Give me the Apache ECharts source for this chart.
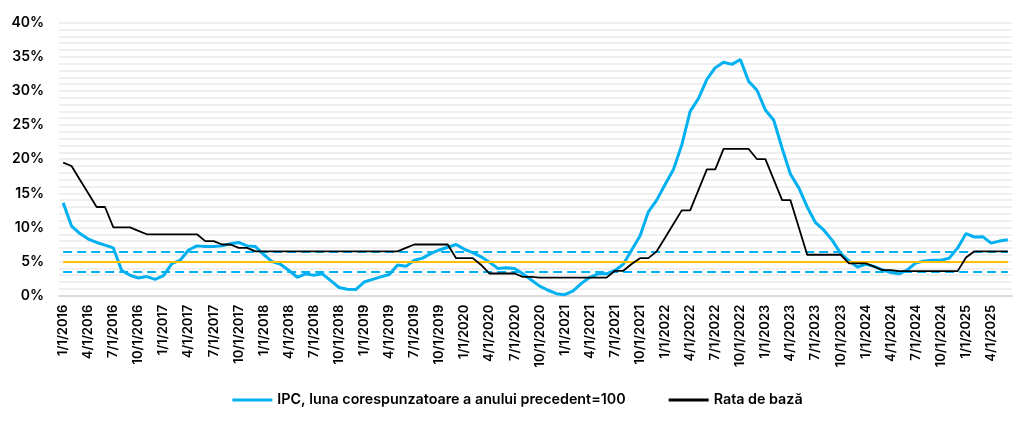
<!DOCTYPE html>
<html>
<head>
<meta charset="utf-8">
<script src="https://cdn.jsdelivr.net/npm/echarts@6/dist/echarts.min.js"></script>
<style>
html,body{margin:0;padding:0;background:#fff;}
#chart{width:1035px;height:434px;}
</style>
</head>
<body>
<div id="chart"></div>
<script>
// Monthly categories: Jan 2016 .. Jun 2025
const startYear = 2016, monthsCount = 114;
const categories = [];
for (let k = 0; k < monthsCount; k++) {
  const m = (k % 12) + 1, y = startYear + Math.floor(k / 12);
  categories.push(m + '/1/' + y);
}

const cpiName = 'IPC, luna corespunzatoare a anului precedent=100';
const baseName = 'Rata de bază';

// IPC (CPI, % y/y)
const cpi = [
  13.6, 10.2, 9.1, 8.3, 7.8, 7.4, 7.0, 3.7, 3.0, 2.6, 2.8, 2.4,
  2.95, 4.7, 5.2, 6.7, 7.3, 7.2, 7.2, 7.3, 7.6, 7.8, 7.3, 7.2,
  6.0, 5.0, 4.6, 3.7, 2.7, 3.2, 3.0, 3.2, 2.2, 1.2, 0.95, 0.9,
  2.0, 2.4, 2.75, 3.1, 4.5, 4.3, 5.2, 5.5, 6.2, 6.7, 7.1, 7.5,
  6.8, 6.3, 5.7, 4.9, 4.0, 4.1, 4.0, 3.2, 2.3, 1.4, 0.8, 0.3,
  0.15, 0.7, 1.8, 2.7, 3.2, 3.2, 3.7, 4.6, 6.7, 8.75, 12.3, 14.0,
  16.3, 18.5, 22.1, 27.0, 28.9, 31.7, 33.4, 34.2, 33.9, 34.6, 31.4, 30.1,
  27.2, 25.7, 21.6, 17.8, 15.8, 13.0, 10.7, 9.6, 8.1, 6.2, 5.1, 4.2,
  4.6, 4.3, 3.8, 3.4, 3.2, 3.8, 4.8, 5.1, 5.2, 5.2, 5.5, 7.0,
  9.1, 8.6, 8.65, 7.7, 8.0, 8.2
];

// Rata de bază (base rate, %)
const baseRate = [
  19.5, 19, 17, 15, 13, 13, 10, 10, 10, 9.5, 9, 9,
  9, 9, 9, 9, 9, 8, 8, 7.5, 7.5, 7, 7, 6.5,
  6.5, 6.5, 6.5, 6.5, 6.5, 6.5, 6.5, 6.5, 6.5, 6.5, 6.5, 6.5,
  6.5, 6.5, 6.5, 6.5, 6.5, 7, 7.5, 7.5, 7.5, 7.5, 7.5, 5.5,
  5.5, 5.5, 4.5, 3.25, 3.25, 3.25, 3.25, 2.75, 2.75, 2.65, 2.65, 2.65,
  2.65, 2.65, 2.65, 2.65, 2.65, 2.65, 3.65, 3.65, 4.65, 5.5, 5.5, 6.5,
  8.5, 10.5, 12.5, 12.5, 15.5, 18.5, 18.5, 21.5, 21.5, 21.5, 21.5, 20,
  20, 17, 14, 14, 10, 6, 6, 6, 6, 6, 4.75, 4.75,
  4.75, 4.25, 3.75, 3.75, 3.6, 3.6, 3.6, 3.6, 3.6, 3.6, 3.6, 3.6,
  5.6, 6.5, 6.5, 6.5, 6.5, 6.5
];

// Inflation target and band (%)
const target = 5;
const bandUpper = 6.5;
const bandLower = 3.5;
const yTicks = [0, 5, 10, 15, 20, 25, 30, 35, 40];

const BLUE = '#00b0f0', YELLOW = '#ffc000';
const FONT = 'Inter';
const first = categories[0], last = categories[categories.length - 1];

function hLine(v, style) {
  return [{ coord: [first, v], lineStyle: style }, { coord: [last, v] }];
}

const chart = echarts.init(document.getElementById('chart'), null, { renderer: 'canvas' });
chart.setOption({
  animation: false,
  backgroundColor: '#fff',
  grid: { left: 59, right: 23, top: 22.7, bottom: 138.3, containLabel: false },
  legend: {
    bottom: 22,
    left: 'center',
    itemWidth: 40,
    itemHeight: 3,
    itemGap: 43,
    textStyle: { fontFamily: FONT, fontSize: 14.3, fontWeight: 600, color: '#000' },
    data: [{ name: cpiName, icon: 'rect' }, { name: baseName, icon: 'rect' }]
  },
  xAxis: {
    type: 'category',
    data: categories,
    boundaryGap: true,
    axisLine: { lineStyle: { color: '#d9d9d9', width: 2 } },
    axisTick: { interval: 2, length: 5, lineStyle: { color: '#d9d9d9', width: 2 } },
    axisLabel: {
      interval: 2, rotate: 90, margin: 9,
      fontFamily: FONT, fontSize: 13, fontWeight: 600, color: '#000'
    },
    splitLine: { show: false }
  },
  yAxis: {
    type: 'value',
    min: yTicks[0], max: yTicks[yTicks.length - 1], interval: 5,
    axisLine: { show: false },
    axisTick: { show: false },
    axisLabel: {
      margin: 15, formatter: '{value}%',
      fontFamily: FONT, fontSize: 14, fontWeight: 600, color: '#000'
    },
    splitLine: { lineStyle: { color: '#efefef', width: 2 } },
    minorTick: { show: false, splitNumber: 5 },
    minorSplitLine: { show: true, lineStyle: { color: '#efefef', width: 2 } }
  },
  series: [
    {
      name: cpiName, type: 'line', data: cpi, symbol: 'none', z: 4,
      lineStyle: { color: BLUE, width: 3 }, itemStyle: { color: BLUE },
      markLine: {
        silent: true, symbol: 'none', label: { show: false }, animation: false,
        data: [
          hLine(target, { color: YELLOW, width: 2, type: 'solid' }),
          hLine(bandUpper, { color: BLUE, width: 2, type: [9, 5] }),
          hLine(bandLower, { color: BLUE, width: 2, type: [9, 5] })
        ]
      }
    },
    {
      name: baseName, type: 'line', data: baseRate, symbol: 'none', z: 5,
      lineStyle: { color: '#000', width: 1.8 }, itemStyle: { color: '#000' }
    }
  ]
});
</script>
</body>
</html>
